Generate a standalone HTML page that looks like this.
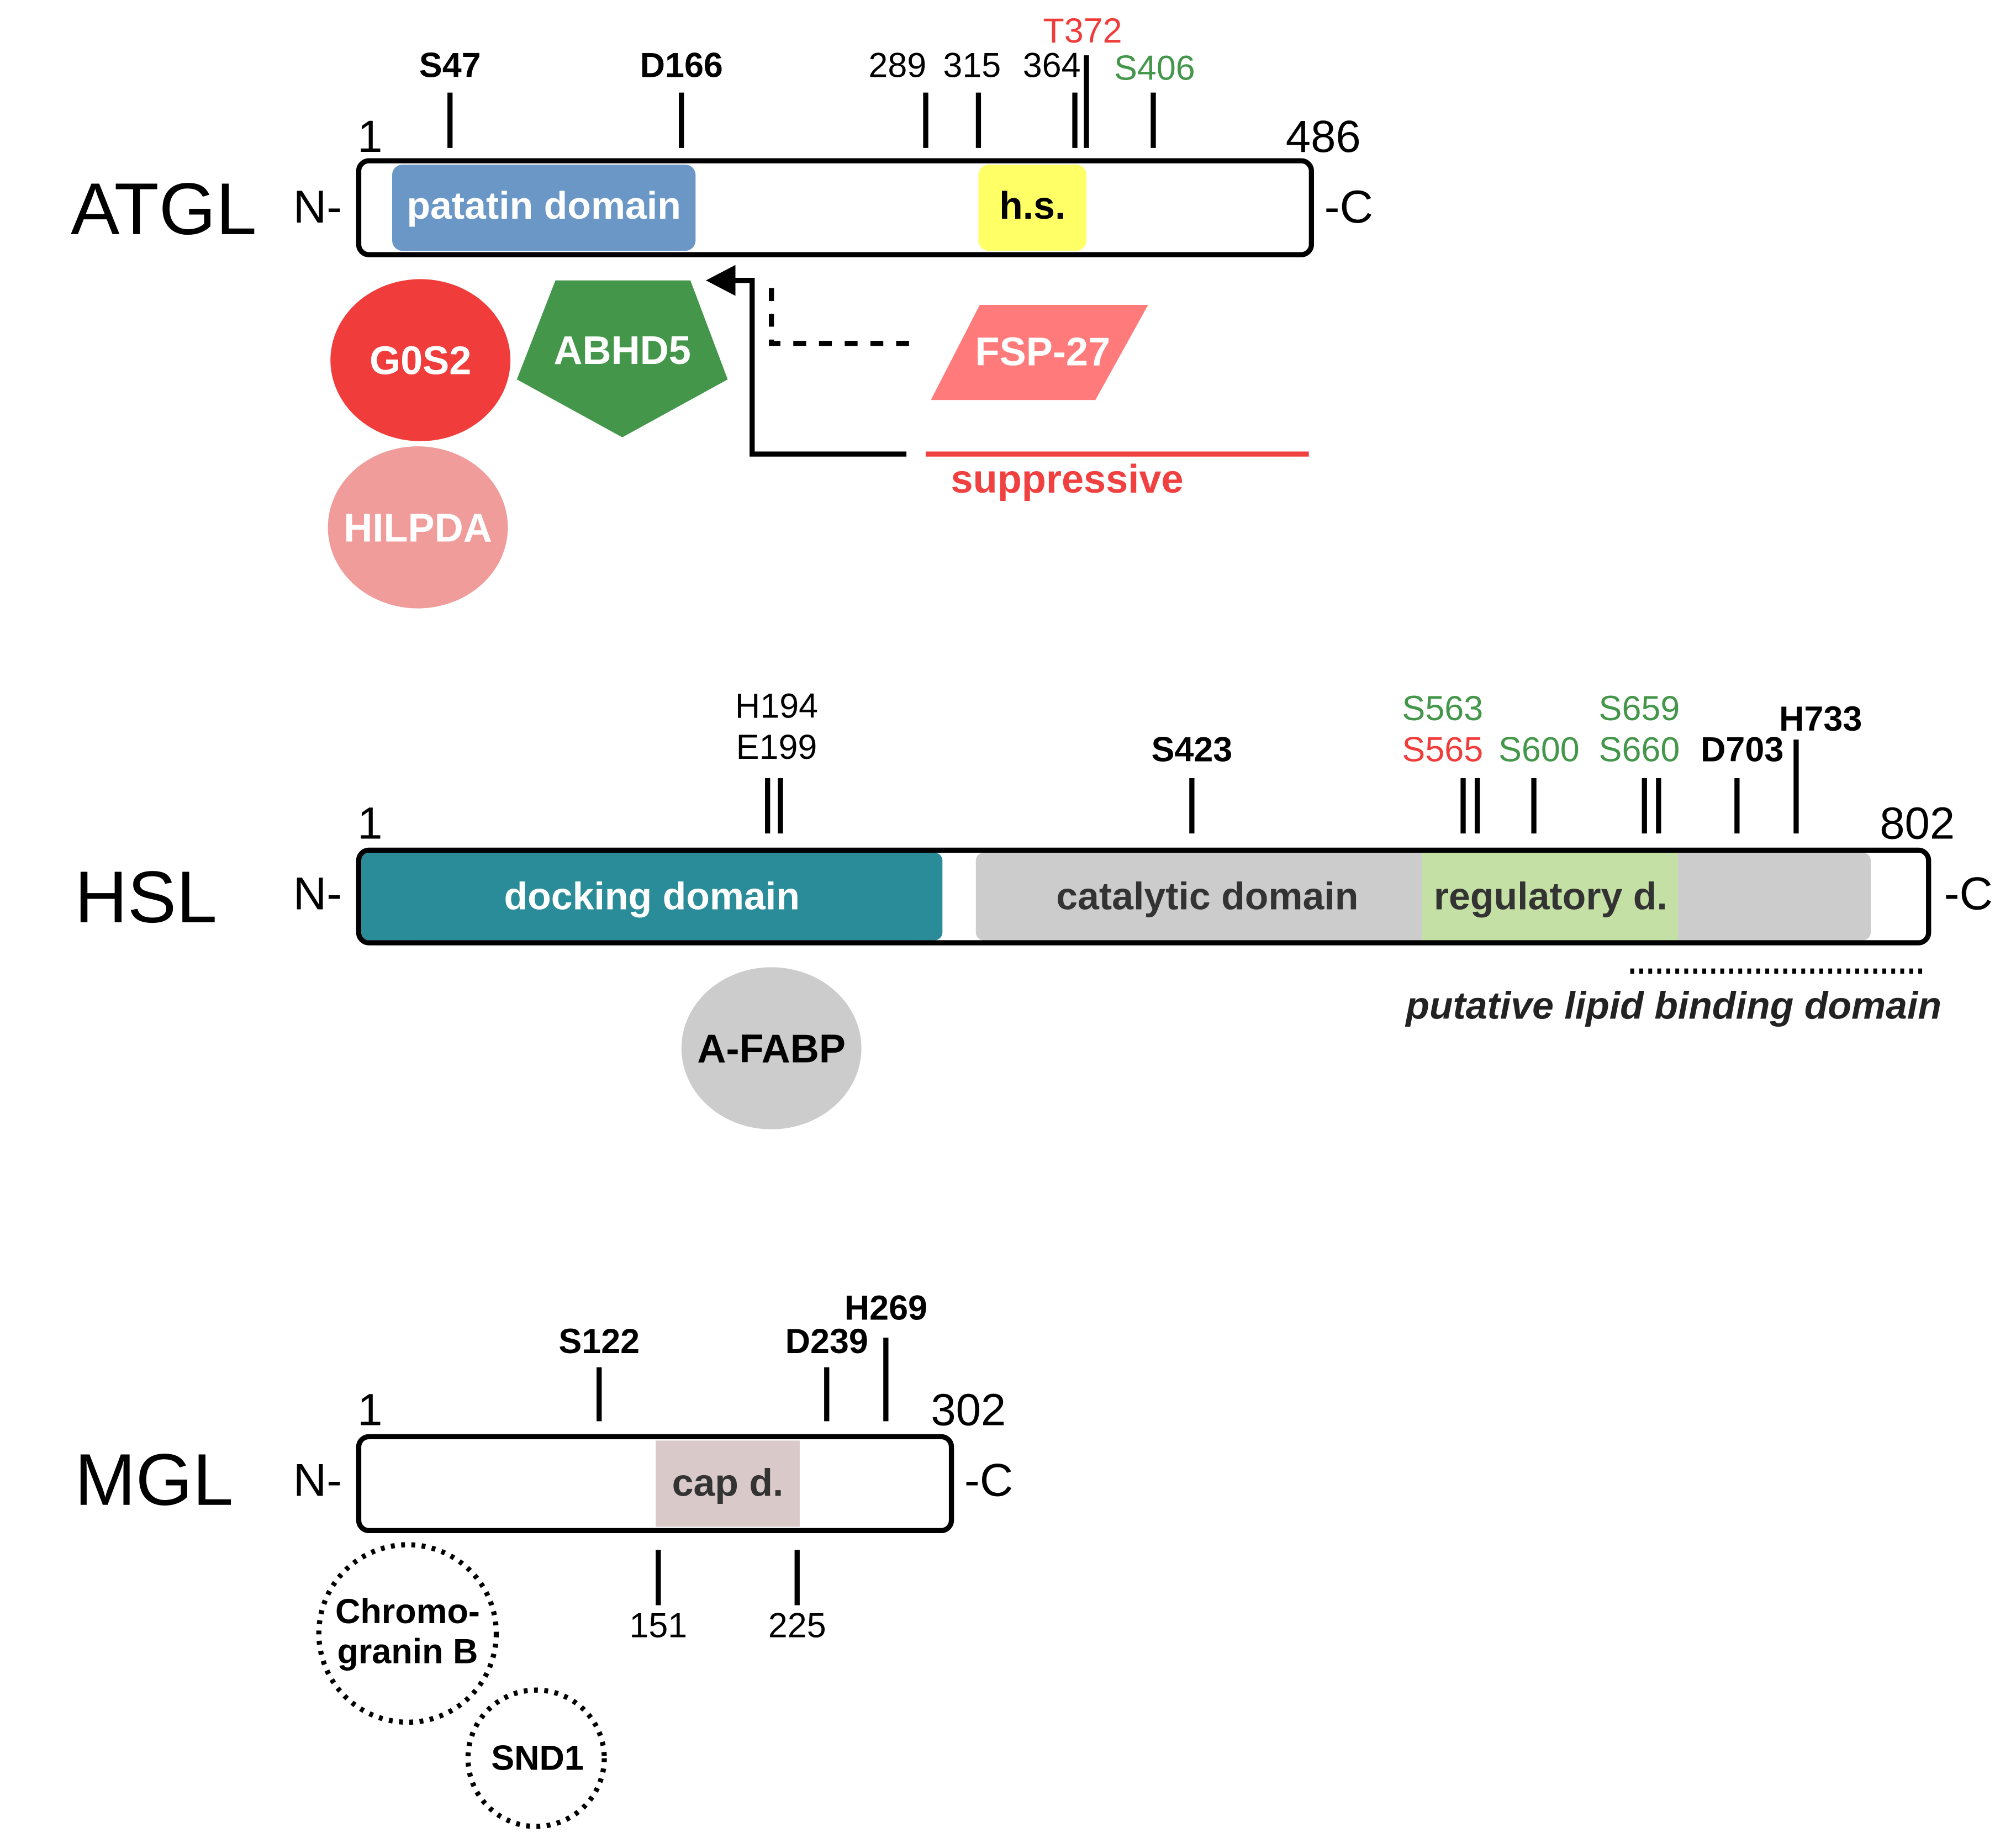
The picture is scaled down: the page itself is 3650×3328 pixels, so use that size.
<!DOCTYPE html>
<html><head><meta charset="utf-8"><style>html,body{margin:0;padding:0;background:#fff}svg{display:block}text{font-family:"Liberation Sans",Arial,sans-serif}</style></head>
<body>
<svg width="3650" height="3328" viewBox="0 0 1568 1429" preserveAspectRatio="none" xmlns="http://www.w3.org/2000/svg">
<!-- ATGL -->
<text x="55" y="182" font-size="57">ATGL</text>
<text x="228" y="173" font-size="36">N-</text>
<text x="1030" y="173" font-size="36">-C</text>
<text x="278" y="118" font-size="35">1</text>
<text x="1000" y="118" font-size="35">486</text>
<rect x="305" y="128" width="236" height="67" rx="8" fill="#6a97c5"/>
<rect x="761" y="128" width="84" height="67" rx="8" fill="#ffff66"/>
<rect x="279" y="125" width="741" height="73" rx="8" fill="none" stroke="#000" stroke-width="4"/>
<text x="423" y="170" font-size="30" font-weight="bold" fill="#fff" text-anchor="middle">patatin domain</text>
<text x="803" y="170" font-size="30" font-weight="bold" text-anchor="middle">h.s.</text>
<g stroke="#000" stroke-width="4">
<line x1="350" y1="72" x2="350" y2="115"/><line x1="530" y1="72" x2="530" y2="115"/>
<line x1="720" y1="72" x2="720" y2="115"/><line x1="761" y1="72" x2="761" y2="115"/>
<line x1="836" y1="72" x2="836" y2="115"/><line x1="845" y1="43" x2="845" y2="115"/>
<line x1="897" y1="72" x2="897" y2="115"/></g>
<g font-size="27" text-anchor="middle">
<text x="350" y="60" font-weight="bold">S47</text>
<text x="530" y="60" font-weight="bold">D166</text>
<text x="698" y="60">289</text><text x="756" y="60">315</text><text x="818" y="60">364</text>
<text x="842" y="33" fill="#f03c3a">T372</text>
<text x="898" y="62" fill="#43964a">S406</text></g>
<ellipse cx="327" cy="280" rx="70" ry="63" fill="#f03c3a"/>
<text x="327" y="291" font-size="31" font-weight="bold" fill="#fff" text-anchor="middle">G0S2</text>
<polygon points="432,218 537,218 566,295 484,340 402,295" fill="#43964a"/>
<text x="484" y="283" font-size="31" font-weight="bold" fill="#fff" text-anchor="middle">ABHD5</text>
<ellipse cx="325" cy="410" rx="70" ry="63" fill="#f09c9a"/>
<text x="325" y="421" font-size="31" font-weight="bold" fill="#fff" text-anchor="middle">HILPDA</text>
<polyline points="705,353 585,353 585,218 568,218" fill="none" stroke="#000" stroke-width="4"/>
<polygon points="549,218 572,206 572,230" fill="#000"/>
<polyline points="600,224 600,267 712,267" fill="none" stroke="#000" stroke-width="4" stroke-dasharray="10,10"/>
<polygon points="762,237 893,237 852,311 724,311" fill="#ff7b7b"/>
<text x="811" y="284" font-size="31" font-weight="bold" fill="#fff" text-anchor="middle">FSP-27</text>
<line x1="720" y1="353" x2="1018" y2="353" stroke="#f04040" stroke-width="4"/>
<text x="830" y="383" font-size="31" font-weight="bold" fill="#f04040" text-anchor="middle">suppressive</text>
<!-- HSL -->
<text x="58" y="717" font-size="57">HSL</text>
<text x="228" y="707" font-size="36">N-</text>
<text x="1512" y="707" font-size="36">-C</text>
<text x="278" y="652" font-size="35">1</text>
<text x="1462" y="652" font-size="35">802</text>
<rect x="281" y="663" width="452" height="68" rx="6" fill="#2a8c98"/>
<rect x="759" y="663" width="696" height="68" rx="6" fill="#cccccc"/>
<rect x="1106" y="663" width="199" height="68" fill="#c4e0a4"/>
<rect x="279" y="661" width="1221" height="72" rx="8" fill="none" stroke="#000" stroke-width="4"/>
<text x="507" y="707" font-size="30" font-weight="bold" fill="#fff" text-anchor="middle">docking domain</text>
<text x="939" y="707" font-size="30" font-weight="bold" fill="#333" text-anchor="middle">catalytic domain</text>
<text x="1206" y="707" font-size="30" font-weight="bold" fill="#333" text-anchor="middle">regulatory d.</text>
<g stroke="#000" stroke-width="4">
<line x1="597" y1="605" x2="597" y2="648"/><line x1="607" y1="605" x2="607" y2="648"/>
<line x1="927" y1="605" x2="927" y2="648"/>
<line x1="1138" y1="605" x2="1138" y2="648"/><line x1="1149" y1="605" x2="1149" y2="648"/>
<line x1="1193" y1="605" x2="1193" y2="648"/>
<line x1="1279" y1="605" x2="1279" y2="648"/><line x1="1290" y1="605" x2="1290" y2="648"/>
<line x1="1351" y1="605" x2="1351" y2="648"/><line x1="1397" y1="575" x2="1397" y2="648"/></g>
<g font-size="27" text-anchor="middle">
<text x="604" y="558">H194</text><text x="604" y="590">E199</text>
<text x="927" y="592" font-weight="bold">S423</text>
<text x="1122" y="560" fill="#43964a">S563</text><text x="1122" y="592" fill="#f03c3a">S565</text>
<text x="1197" y="592" fill="#43964a">S600</text>
<text x="1275" y="560" fill="#43964a">S659</text><text x="1275" y="592" fill="#43964a">S660</text>
<text x="1355" y="592" font-weight="bold">D703</text>
<text x="1416" y="568" font-weight="bold">H733</text></g>
<line x1="1268" y1="755" x2="1497" y2="755" stroke="#000" stroke-width="4" stroke-dasharray="3,4"/>
<text x="1510" y="792" font-size="30" font-weight="bold" font-style="italic" fill="#222" text-anchor="end">putative lipid binding domain</text>
<ellipse cx="600" cy="815" rx="70" ry="63" fill="#cccccc"/>
<text x="600" y="826" font-size="31" font-weight="bold" text-anchor="middle">A-FABP</text>
<!-- MGL -->
<text x="58" y="1170" font-size="57">MGL</text>
<text x="228" y="1163" font-size="36">N-</text>
<text x="750" y="1163" font-size="36">-C</text>
<text x="278" y="1108" font-size="35">1</text>
<text x="724" y="1108" font-size="35">302</text>
<rect x="510" y="1120" width="112" height="67" fill="#d9c9c9"/>
<rect x="279" y="1117" width="461" height="73" rx="8" fill="none" stroke="#000" stroke-width="4"/>
<text x="566" y="1163" font-size="30" font-weight="bold" fill="#333" text-anchor="middle">cap d.</text>
<g stroke="#000" stroke-width="4">
<line x1="466" y1="1063" x2="466" y2="1105"/><line x1="643" y1="1063" x2="643" y2="1105"/>
<line x1="689" y1="1040" x2="689" y2="1105"/>
<line x1="512" y1="1205" x2="512" y2="1248"/><line x1="620" y1="1205" x2="620" y2="1248"/></g>
<g font-size="27" text-anchor="middle">
<text x="466" y="1052" font-weight="bold">S122</text>
<text x="643" y="1052" font-weight="bold">D239</text>
<text x="689" y="1026" font-weight="bold">H269</text>
<text x="512" y="1273">151</text><text x="620" y="1273">225</text></g>
<circle cx="317" cy="1270" r="69" fill="none" stroke="#000" stroke-width="4" stroke-dasharray="3,5"/>
<text x="317" y="1262" font-size="27" font-weight="bold" text-anchor="middle">Chromo-</text>
<text x="317" y="1293" font-size="27" font-weight="bold" text-anchor="middle">granin B</text>
<circle cx="417" cy="1367" r="53" fill="none" stroke="#000" stroke-width="4" stroke-dasharray="3,5"/>
<text x="418" y="1376" font-size="27" font-weight="bold" text-anchor="middle">SND1</text>
</svg>
</body></html>
